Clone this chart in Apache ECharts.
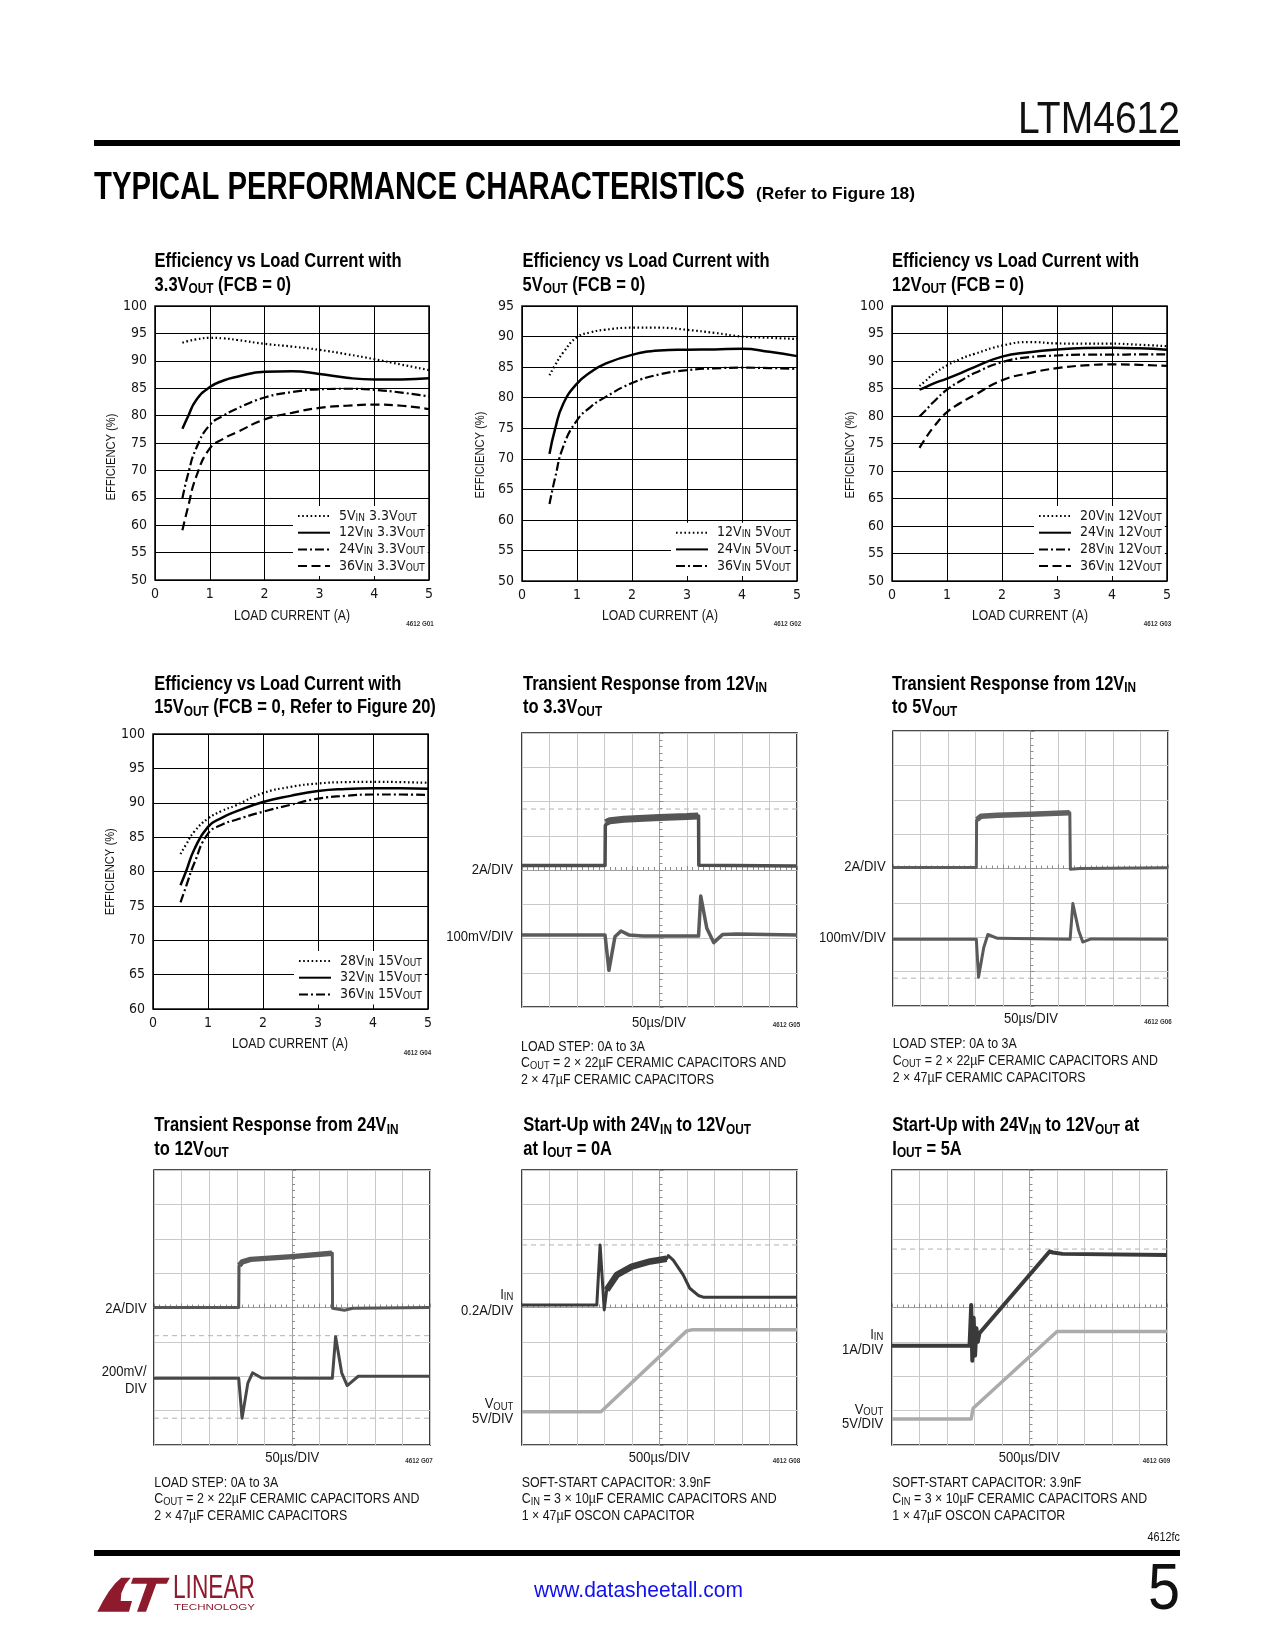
<!DOCTYPE html>
<html><head><meta charset="utf-8">
<script src="https://cdn.jsdelivr.net/npm/echarts@6/dist/echarts.min.js"></script>
<style>html,body{margin:0;padding:0;background:#fff}#c{width:1275px;height:1650px}</style>
</head><body><div id="c"></div>
<script>
// ---------------- DATA ----------------
const loadCurrent = [0.5, 0.6, 0.75, 1, 1.25, 1.5, 2, 2.5, 3, 3.5, 4, 4.5, 5];
const effXTicks = [0, 1, 2, 3, 4, 5];

// G01: 3.3VOUT
const g01_5Vin  = [93.3, 93.6, 93.9, 94.2, 94.1, 93.8, 93.1, 92.6, 92.0, 91.2, 90.3, 89.3, 88.3];
const g01_12Vin = [77.6, 79.8, 82.8, 85.2, 86.4, 87.1, 88.0, 88.1, 87.6, 86.9, 86.6, 86.6, 86.8];
const g01_24Vin = [64.9, 69.2, 74.0, 78.3, 80.0, 81.3, 83.3, 84.3, 84.8, 84.9, 84.7, 84.2, 83.5];
const g01_36Vin = [59.1, 63.2, 68.8, 74.0, 75.8, 77.0, 79.3, 80.5, 81.4, 81.8, 82.0, 81.8, 81.2];
// G02: 5VOUT
const g02_12Vin = [83.65, 85.3, 87.4, 89.9, 90.7, 91.1, 91.45, 91.45, 91.1, 90.6, 90.0, 89.8, 89.6];
const g02_24Vin = [70.8, 74.8, 79.0, 82.3, 84.2, 85.5, 87.0, 87.7, 87.85, 87.9, 88.0, 87.5, 86.8];
const g02_36Vin = [62.6, 66.8, 72.0, 76.3, 78.5, 80.0, 82.4, 83.8, 84.5, 84.8, 84.9, 84.85, 84.7];
// G03: 12VOUT
const g03_20Vin = [85.45, 86.3, 87.6, 89.2, 90.4, 91.3, 92.8, 93.45, 93.2, 93.15, 93.15, 92.95, 92.7];
const g03_24Vin = [84.8, 85.2, 85.9, 86.8, 87.8, 88.9, 90.8, 91.6, 92.1, 92.35, 92.4, 92.3, 92.05];
const g03_28Vin = [79.9, 80.9, 82.5, 84.8, 86.4, 87.8, 89.8, 90.7, 91.0, 91.15, 91.15, 91.2, 91.2];
const g03_36Vin = [74.2, 75.8, 77.9, 80.7, 82.4, 83.8, 86.5, 87.8, 88.7, 89.2, 89.4, 89.3, 89.1];
// G04: 15VOUT
const g04_28Vin = [82.55, 83.9, 85.8, 87.7, 88.8, 89.6, 91.4, 92.3, 92.8, 93.0, 93.05, 93.0, 92.9];
const g04_32Vin = [78.0, 80.0, 83.2, 86.5, 87.8, 88.7, 90.1, 91.0, 91.7, 92.0, 92.1, 92.1, 92.05];
const g04_36Vin = [75.5, 77.8, 81.2, 85.5, 86.8, 87.5, 88.7, 89.7, 90.6, 91.0, 91.2, 91.2, 91.15];

// Scope traces, in screen divisions (x: -5..5, y: -4..4 from centre)
const g05Current = [[-5,0.13],[-1.98,0.13],[-1.97,1.3],[-1.85,1.42],[-1.3,1.48],[0,1.53],[1.0,1.56],[1.42,1.58],[1.43,0.14],[5,0.12]];
const g05CurrentBand = [[-1.95,1.38],[-1.8,1.44],[-1.3,1.48],[0,1.53],[1.0,1.56],[1.41,1.58]];
const g05Vout = [[-5,-1.9],[-1.98,-1.9],[-1.84,-2.93],[-1.62,-1.95],[-1.4,-1.78],[-1.1,-1.9],[-0.6,-1.93],[1.42,-1.93],[1.5,-0.76],[1.72,-1.7],[1.97,-2.12],[2.3,-1.88],[2.8,-1.87],[5,-1.9]];
const g05Cursor = [1.78];

const g06Current = [[-5,0.03],[-1.97,0.03],[-1.96,1.4],[-1.8,1.52],[-1.2,1.55],[0,1.58],[1.43,1.62],[1.45,-0.02],[1.8,0.0],[5,0.02]];
const g06CurrentBand = [[-1.95,1.42],[-1.8,1.52],[-1.2,1.55],[0,1.58],[1.42,1.62]];
const g06Vout = [[-5,-2.06],[-1.97,-2.06],[-1.89,-3.16],[-1.7,-2.3],[-1.55,-1.92],[-1.2,-2.03],[1.44,-2.06],[1.54,-1.02],[1.75,-1.8],[1.9,-2.14],[2.2,-2.05],[5,-2.06]];
const g06Cursor = [-3.19];

const g07Current = [[-5,0.0],[-1.93,0.0],[-1.92,1.2],[-1.8,1.33],[-1.5,1.4],[0,1.48],[1.46,1.58],[1.47,-0.02],[1.9,-0.08],[2.2,-0.02],[5,0.0]];
const g07CurrentBand = [[-1.91,1.22],[-1.8,1.33],[-1.5,1.4],[0,1.48],[1.45,1.58]];
const g07Vout = [[-5,-2.06],[-1.93,-2.06],[-1.81,-3.22],[-1.6,-2.2],[-1.43,-1.9],[-1.1,-2.05],[1.46,-2.06],[1.58,-0.85],[1.8,-1.9],[2.0,-2.27],[2.4,-2.0],[5,-2.0]];
const g07Cursor = [-0.82, -3.22];

const g08Iin = [[-5,0.07],[-2.28,0.07],[-2.16,1.82],[-2.01,-0.07],[-1.92,0.51],[-1.55,0.95],[-1.01,1.19],[-0.34,1.34],[0.26,1.42],[0.32,1.51],[0.5,1.38],[0.86,0.95],[1.1,0.56],[1.41,0.35],[1.59,0.30],[5,0.30]];
const g08IinBand = [[-1.92,0.51],[-1.55,0.95],[-1.01,1.19],[-0.34,1.34],[0.26,1.42]];
const g08Vout = [[-5,-3.03],[-2.13,-3.03],[0.99,-0.68],[1.2,-0.65],[5,-0.65]];
const g08Cursor = [1.82];

const g09Iin = [[-5,-1.11],[-2.18,-1.11],[-2.12,0.07],[-2.08,-1.55],[-2.03,-0.3],[-1.98,-1.4],[-1.93,-0.6],[-1.88,-1.0],[-1.82,-0.75],[0.73,1.63],[0.85,1.6],[1.2,1.56],[5,1.53]];
const g09Vout = [[-5,-3.24],[-2.12,-3.24],[-2.05,-2.93],[1.0,-0.7],[1.2,-0.7],[5,-0.7]];
const g09Cursor = [1.70];

// ---------------- LAYOUT / STYLE ----------------
const F = "'DejaVu Sans Condensed','Liberation Sans',Arial,sans-serif";   // axis + legend text
const FT = "'Liberation Sans',Arial,sans-serif";                          // free text (horizontally condensed)
const NARROW = 0.83;
const INK = '#151515';
const mctx = document.createElement('canvas').getContext('2d');
function measure(text, font) { mctx.font = font; return mctx.measureText(text).width; }

function sub(lh, subSize, offset, weight, color, fam) {
  return { s: { fontSize: subSize, lineHeight: lh - 2 * offset, verticalAlign: 'bottom', fontFamily: fam || FT,
                fontWeight: weight || 'normal', fill: color || INK, color: color || INK } };
}
function txt(x, y, text, o) {
  o = o || {};
  const st = { text, x: 0, y: 0, fill: o.color || INK, fontSize: o.size || 14, fontFamily: o.family || FT,
    fontWeight: o.weight || 'normal', align: o.align || 'left', textAlign: o.align || 'left',
    verticalAlign: o.va || 'middle', textVerticalAlign: o.va || 'middle' };
  if (o.lh) st.lineHeight = o.lh;
  if (o.rich) st.rich = o.rich;
  return { type: 'text', x, y, rotation: o.rot || 0, scaleX: o.sx || NARROW, z: 100, silent: true, style: st };
}

const grids = [
  { left: 155, top: 306, width: 274, height: 274 },
  { left: 522, top: 306, width: 275, height: 275 },
  { left: 892, top: 306, width: 275, height: 275 },
  { left: 153, top: 734, width: 275, height: 275 },
  { left: 522, top: 733, width: 275, height: 274 },
  { left: 893, top: 731, width: 275, height: 275 },
  { left: 154, top: 1170, width: 276, height: 275 },
  { left: 522, top: 1170, width: 275, height: 275 },
  { left: 892, top: 1170, width: 275, height: 275 }
].map(g => Object.assign({ show: true, borderColor: '#111', borderWidth: 1.6, backgroundColor: 'transparent', containLabel: false }, g));

const xAxes = [], yAxes = [];
const effYRange = [[50, 100], [50, 95], [50, 100], [60, 100]];
for (let i = 0; i < 4; i++) {
  xAxes.push({ gridIndex: i, type: 'value', min: effXTicks[0], max: effXTicks[effXTicks.length - 1], interval: 1,
    axisLine: { show: false }, axisTick: { show: false },
    axisLabel: { fontSize: 14, fontFamily: F, color: INK, margin: 7 },
    splitLine: { show: true, lineStyle: { color: '#000', width: 1 } } });
  yAxes.push({ gridIndex: i, type: 'value', min: effYRange[i][0], max: effYRange[i][1], interval: 5,
    axisLine: { show: false }, axisTick: { show: false },
    axisLabel: { fontSize: 14, fontFamily: F, color: INK, margin: 8 },
    splitLine: { show: true, lineStyle: { color: '#000', width: 1 } } });
}
for (let i = 4; i < 9; i++) {
  const common = { gridIndex: i, type: 'value', interval: 1,
    axisLine: { show: true, onZero: true, lineStyle: { color: '#a0a0a0', width: 1 } },
    axisTick: { show: true, inside: true, length: 4, lineStyle: { color: '#8c8c8c' } },
    minorTick: { show: true, splitNumber: 5, length: 3, lineStyle: { color: '#8c8c8c' } },
    axisLabel: { show: false },
    splitLine: { show: true, lineStyle: { color: '#c9c9c9', width: 1 } } };
  xAxes.push(Object.assign({ min: -5, max: 5 }, common));
  yAxes.push(Object.assign({ min: -4, max: 4 }, common));
}

const DOT = { color: '#000', width: 2.2, type: [1.6, 2.6] };
const SOLID = { color: '#000', width: 2.5, type: 'solid' };
const DASHDOT = { color: '#000', width: 2.2, type: [9, 3, 2, 3] };
const DASH = { color: '#000', width: 2.2, type: [9, 4.5] };

const series = [];
function effSeries(gi, name, ys, ls) {
  series.push({ type: 'line', name, xAxisIndex: gi, yAxisIndex: gi, symbol: 'none', showSymbol: false, smooth: 0.5,
    color: '#000', itemStyle: { color: '#000' }, lineStyle: ls, z: 3,
    data: loadCurrent.map((x, k) => [x, ys[k]]) });
}
effSeries(0, '5VIN 3.3VOUT', g01_5Vin, DOT);
effSeries(0, '12VIN 3.3VOUT', g01_12Vin, SOLID);
effSeries(0, '24VIN 3.3VOUT', g01_24Vin, DASHDOT);
effSeries(0, '36VIN 3.3VOUT', g01_36Vin, DASH);
effSeries(1, '12VIN 5VOUT', g02_12Vin, DOT);
effSeries(1, '24VIN 5VOUT', g02_24Vin, SOLID);
effSeries(1, '36VIN 5VOUT', g02_36Vin, DASHDOT);
effSeries(2, '20VIN 12VOUT', g03_20Vin, DOT);
effSeries(2, '24VIN 12VOUT', g03_24Vin, SOLID);
effSeries(2, '28VIN 12VOUT', g03_28Vin, DASHDOT);
effSeries(2, '36VIN 12VOUT', g03_36Vin, DASH);
effSeries(3, '28VIN 15VOUT', g04_28Vin, DOT);
effSeries(3, '32VIN 15VOUT', g04_32Vin, SOLID);
effSeries(3, '36VIN 15VOUT', g04_36Vin, DASHDOT);

const DARK = '#4e4e4e', LIGHT = '#ababab';
function scope(gi, pts, color, width) {
  series.push({ type: 'line', xAxisIndex: gi, yAxisIndex: gi, symbol: 'none', smooth: false, silent: true, z: 4,
    lineStyle: { color, width, join: 'round' }, data: pts });
}
function cursors(gi, ys) {
  ys.forEach(y => series.push({ type: 'line', xAxisIndex: gi, yAxisIndex: gi, symbol: 'none', silent: true, z: 3,
    lineStyle: { color: '#b2b2b2', width: 1, type: [5, 4] }, data: [[-5, y], [5, y]] }));
}
cursors(4, g05Cursor); scope(4, g05Current, DARK, 3.5); scope(4, g05CurrentBand, '#555', 7); scope(4, g05Vout, '#5a5a5a', 3.5);
cursors(5, g06Cursor); scope(5, g06Current, '#5c5c5c', 3); scope(5, g06CurrentBand, '#606060', 5.5); scope(5, g06Vout, '#5a5a5a', 3);
cursors(6, g07Cursor); scope(6, g07Current, '#575757', 3); scope(6, g07CurrentBand, '#5a5a5a', 5.5); scope(6, g07Vout, '#484848', 3);
cursors(7, g08Cursor); scope(7, g08Iin, '#3c3c3c', 3); scope(7, g08IinBand, '#3c3c3c', 6.5); scope(7, g08Vout, LIGHT, 3.5);
cursors(8, g09Cursor); scope(8, g09Iin, '#3a3a3a', 4); scope(8, g09Vout, LIGHT, 3.5);

// legends
const legRich = sub(14, 10, 4.2, 'normal', INK, F);
function legendFmt(name) {
  return ' ' + name.replace(/VIN/, 'V{s|IN}').replace(/VOUT/, 'V{s|OUT}');
}
function legend(left, top, names) {
  return { show: true, left, top, orient: 'vertical', itemWidth: 32, itemHeight: 12, itemGap: 2.7,
    backgroundColor: '#fff', padding: [3, 3, 3, 4], selectedMode: false, data: names,
    itemStyle: { opacity: 0, borderWidth: 0 },
    formatter: legendFmt,
    textStyle: { fontSize: 14, fontFamily: F, color: INK, lineHeight: 14, rich: legRich } };
}
const legends = [
  legend(293, 506, ['5VIN 3.3VOUT', '12VIN 3.3VOUT', '24VIN 3.3VOUT', '36VIN 3.3VOUT']),
  legend(671, 522.7, ['12VIN 5VOUT', '24VIN 5VOUT', '36VIN 5VOUT']),
  legend(1034, 506, ['20VIN 12VOUT', '24VIN 12VOUT', '28VIN 12VOUT', '36VIN 12VOUT']),
  legend(294, 951, ['28VIN 15VOUT', '32VIN 15VOUT', '36VIN 15VOUT'])
];

// ---------------- TEXT ----------------
const G = [];
// header
G.push(txt(94, 189, 'TYPICAL PERFORMANCE CHARACTERISTICS', { size: 38, weight: 'bold', color: '#000', sx: 651 / measure('TYPICAL PERFORMANCE CHARACTERISTICS', 'bold 38px ' + FT) }));
G.push(txt(756, 194, '(Refer to Figure 18)', { size: 17, weight: 'bold', color: '#000', sx: 159 / measure('(Refer to Figure 18)', 'bold 17px ' + FT) }));
G.push(txt(1180, 121, 'LTM4612', { size: 44, align: 'right', color: '#111', sx: 162 / measure('LTM4612', '44px ' + FT) }));
G.push({ type: 'rect', shape: { x: 94, y: 140, width: 1086, height: 6 }, style: { fill: '#000' }, silent: true });
// footer
G.push(txt(1180, 1537, '4612fc', { size: 13, align: 'right', color: '#111' }));
G.push({ type: 'rect', shape: { x: 94, y: 1550, width: 1086, height: 6 }, style: { fill: '#000' }, silent: true });
G.push(txt(638.5, 1591, 'www.datasheetall.com', { size: 22, align: 'center', color: '#1010f0', sx: 209 / measure('www.datasheetall.com', '22px ' + FT) }));
G.push(txt(1180, 1591, '5', { size: 64, align: 'right', color: '#111', sx: 0.9 }));
const LOGO = '#8e1b2d';
G.push({ type: 'polygon', silent: true, shape: { points: [[97.3,1611.7],[103,1601],[108.7,1591.7],[115.3,1583.3],[121.3,1577.7],[130.7,1577.7],[125.3,1584.3],[121.3,1593.3],[120.7,1601],[132,1601],[129,1611.7]] }, style: { fill: LOGO } });
G.push({ type: 'polygon', silent: true, shape: { points: [[133,1577.7],[169.7,1577.7],[166.7,1583.7],[156.3,1583.7],[146,1611.7],[137,1611.7],[147,1583.7],[131,1583.7]] }, style: { fill: LOGO } });
G.push(txt(173, 1589, 'LINEAR', { size: 33, color: LOGO, sx: 82 / measure('LINEAR', '33px ' + FT) }));
G.push(txt(174, 1607.5, 'TECHNOLOGY', { size: 9.5, color: LOGO, sx: 81 / measure('TECHNOLOGY', '9.5px ' + FT) }));

// chart titles
const titleSx = 247 / measure('Efficiency vs Load Current with', 'bold 21px ' + FT);
const titleRich = sub(23.3, 15, 4.8, 'bold', '#000');
const titles = [
  [154.6, 250, 'Efficiency vs Load Current with\n3.3V{s|OUT} (FCB = 0)'],
  [522.5, 250, 'Efficiency vs Load Current with\n5V{s|OUT} (FCB = 0)'],
  [892, 250, 'Efficiency vs Load Current with\n12V{s|OUT} (FCB = 0)'],
  [154.3, 672.5, 'Efficiency vs Load Current with\n15V{s|OUT} (FCB = 0, Refer to Figure 20)'],
  [523, 672.5, 'Transient Response from 12V{s|IN}\nto 3.3V{s|OUT}'],
  [892, 672.5, 'Transient Response from 12V{s|IN}\nto 5V{s|OUT}'],
  [154.3, 1114, 'Transient Response from 24V{s|IN}\nto 12V{s|OUT}'],
  [523.3, 1114, 'Start-Up with 24V{s|IN} to 12V{s|OUT}\nat I{s|OUT} = 0A'],
  [892.3, 1114, 'Start-Up with 24V{s|IN} to 12V{s|OUT} at\nI{s|OUT} = 5A']
];
titles.forEach(t => G.push(txt(t[0], t[1], t[2], { size: 21, weight: 'bold', color: '#000', va: 'top', lh: 23.3, rich: titleRich, sx: titleSx })));

// efficiency axis names and figure ids
[[111.7, 457], [480, 455], [850, 455], [110, 871.7]].forEach(p =>
  G.push(txt(p[0], p[1], 'EFFICIENCY (%)', { size: 13.5, align: 'center', rot: Math.PI / 2, sx: 87 / measure('EFFICIENCY (%)', '13.5px ' + FT) })));
[[292, 615.7], [660, 615.7], [1030, 615.7], [290, 1044]].forEach(p =>
  G.push(txt(p[0], p[1], 'LOAD CURRENT (A)', { size: 14.5, align: 'center', sx: 116 / measure('LOAD CURRENT (A)', '14.5px ' + FT) })));
[[420, 624, '4612 G01'], [787.5, 624, '4612 G02'], [1157.5, 624, '4612 G03'], [417.5, 1052.7, '4612 G04'],
 [786.5, 1025, '4612 G05'], [1158, 1022, '4612 G06'], [419, 1461, '4612 G07'], [786.5, 1461, '4612 G08'], [1156.5, 1461, '4612 G09']]
  .forEach(p => G.push(txt(p[0], p[1], p[2], { size: 7.5, weight: 'bold', align: 'center', color: '#333' })));

// scope labels
const lblRich = sub(16, 10.5, 4.2);
const scopeLabels = [
  [513, 870, '2A/DIV'], [513, 936.7, '100mV/DIV'],
  [885.7, 866.7, '2A/DIV'], [885.7, 937.7, '100mV/DIV'],
  [146.7, 1309, '2A/DIV'], [146.7, 1371.7, '200mV/'], [146.7, 1389, 'DIV'],
  [513.3, 1295, 'I{s|IN}'], [513.3, 1311, '0.2A/DIV'], [513.3, 1404.3, 'V{s|OUT}'], [513.3, 1419, '5V/DIV'],
  [883.3, 1335, 'I{s|IN}'], [883.3, 1350, '1A/DIV'], [883.3, 1410, 'V{s|OUT}'], [883.3, 1424.3, '5V/DIV']
];
scopeLabels.forEach(p => G.push(txt(p[0], p[1], p[2], { size: 14.5, align: 'right', lh: 16, rich: lblRich, sx: 0.9 })));
[[659, 1022.7, '50µs/DIV'], [1031, 1019.3, '50µs/DIV'], [292.3, 1458.3, '50µs/DIV'], [659.3, 1458.3, '500µs/DIV'], [1029.3, 1458.3, '500µs/DIV']]
  .forEach(p => G.push(txt(p[0], p[1], p[2], { size: 14.5, align: 'center', sx: 0.9 })));

// notes
const noteRich = sub(16.7, 10.5, 3.7);
const notesLoad = ['LOAD STEP: 0A to 3A', 'C{s|OUT} = 2 × 22µF CERAMIC CAPACITORS AND', '2 × 47µF CERAMIC CAPACITORS'];
const notesStart = ['SOFT-START CAPACITOR: 3.9nF', 'C{s|IN} = 3 × 10µF CERAMIC CAPACITORS AND', '1 × 47µF OSCON CAPACITOR'];
[[521, 1046.7, notesLoad], [892.7, 1044.3, notesLoad], [154.3, 1482.7, notesLoad], [521.7, 1482.7, notesStart], [892.3, 1482.7, notesStart]]
  .forEach(n => n[2].forEach((line, k) => G.push(txt(n[0], n[1] + k * 16.7, line, { size: 14, lh: 16.7, rich: noteRich, sx: 0.885 }))));

const chart = echarts.init(document.getElementById('c'), null, { renderer: 'canvas' });
chart.setOption({
  animation: false,
  backgroundColor: '#fff',
  grid: grids,
  xAxis: xAxes,
  yAxis: yAxes,
  legend: legends,
  series: series,
  graphic: { elements: G }
});
</script></body></html>
